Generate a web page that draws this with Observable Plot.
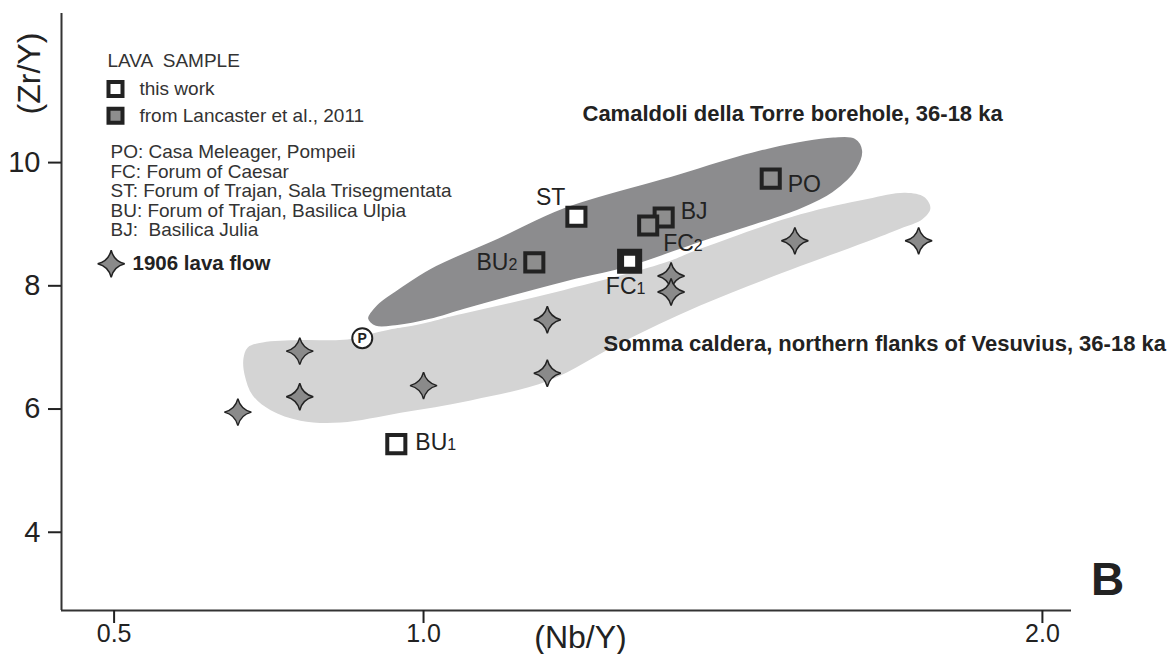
<!DOCTYPE html>
<html>
<head>
<meta charset="utf-8">
<script src="https://cdn.jsdelivr.net/npm/d3@7"></script>
<script src="https://cdn.jsdelivr.net/npm/@observablehq/plot@0.6"></script>
<style>
  html, body { margin: 0; padding: 0; background: #fff; }
  #chart svg { display: block; }
  #chart svg text { white-space: pre; }
</style>
</head>
<body>
<div id="chart"></div>
<script>
// Axis ticks and extents (Nb/Y on x, Zr/Y on y)
const xTicks = [0.5, 1.0, 2.0];
const yTicks = [4, 6, 8, 10];
const xDomain = [0.415, 2.047];
const yDomain = [2.73, 12.42];

// Lava samples: Roman building stones and the Pompeii sample
const sampleNames  = ["PO", "ST", "BU2", "BJ", "FC2", "FC1", "BU1"];
const sampleNbY    = [1.561, 1.247, 1.179, 1.388, 1.363, 1.333, 0.956];
const sampleZrY    = [9.74, 9.12, 8.38, 9.11, 8.98, 8.40, 5.43];
const sampleSource = ["Lancaster", "this work", "Lancaster", "Lancaster", "Lancaster", "this work", "this work"];

// 1906 lava flow
const flowNbY = [0.70, 0.80, 0.80, 1.00, 1.20, 1.20, 1.40, 1.40, 1.60, 1.80];
const flowZrY = [5.95, 6.94, 6.20, 6.38, 7.45, 6.58, 8.16, 7.90, 8.73, 8.73];

// Pompeii reference (circled P)
const pompeiiNbY = [0.901];
const pompeiiZrY = [7.15];

// Camaldoli della Torre borehole field outline
const camaldoliNbY = [0.908, 0.924, 0.958, 1.011, 1.120, 1.226, 1.388, 1.556, 1.662, 1.698, 1.711, 1.701, 1.662, 1.609, 1.528, 1.447, 1.334, 1.226, 1.065, 1.011, 0.958, 0.922];
const camaldoliZrY = [7.47, 7.71, 7.96, 8.30, 8.79, 9.28, 9.76, 10.25, 10.43, 10.41, 10.20, 9.88, 9.50, 9.23, 8.95, 8.69, 8.30, 8.04, 7.60, 7.44, 7.34, 7.33];

// Somma caldera, northern flanks field outline
const sommaNbY = [0.716, 0.740, 0.801, 0.877, 0.919, 1.065, 1.226, 1.388, 1.447, 1.609, 1.717, 1.779, 1.809, 1.819, 1.806, 1.771, 1.717, 1.609, 1.447, 1.318, 1.202, 1.076, 0.963, 0.866, 0.801, 0.753, 0.724, 0.711, 0.709];
const sommaZrY = [7.00, 7.08, 7.12, 7.13, 7.23, 7.55, 7.93, 8.37, 8.60, 9.16, 9.41, 9.51, 9.44, 9.26, 9.08, 8.93, 8.72, 8.32, 7.68, 7.07, 6.46, 6.14, 5.94, 5.78, 5.81, 5.98, 6.22, 6.55, 6.82];

// Legend texts
const legendTitle = "LAVA  SAMPLE";
const legendSources = ["this work", "from Lancaster et al., 2011"];
const legendSites = [
  "PO: Casa Meleager, Pompeii",
  "FC: Forum of Caesar",
  "ST: Forum of Trajan, Sala Trisegmentata",
  "BU: Forum of Trajan, Basilica Ulpia",
  "BJ:  Basilica Julia"
];
const legendFlow = "1906 lava flow";
const camaldoliLabel = "Camaldoli della Torre borehole, 36-18 ka";
const sommaLabel = "Somma caldera, northern flanks of Vesuvius, 36-18 ka";
const panelLetter = "B";
const xLabel = "(Nb/Y)";
const yLabel = "(Zr/Y)";

// ---- build tables ----
const samples = sampleNames.map((name, i) => ({name, x: sampleNbY[i], y: sampleZrY[i], source: sampleSource[i]}));
const flow = flowNbY.map((x, i) => ({x, y: flowZrY[i]}));
const pompeii = pompeiiNbY.map((x, i) => ({x, y: pompeiiZrY[i]}));
const camaldoli = camaldoliNbY.map((x, i) => ({x, y: camaldoliZrY[i]}));
const somma = sommaNbY.map((x, i) => ({x, y: sommaZrY[i]}));

// Four-pointed star with concave sides
const star4 = {
  draw(context, size) {
    const R = Math.sqrt(size / Math.PI);
    const k = R * 0.2;
    context.moveTo(0, -R);
    context.quadraticCurveTo(k, -k, R, 0);
    context.quadraticCurveTo(k, k, 0, R);
    context.quadraticCurveTo(-k, k, -R, 0);
    context.quadraticCurveTo(-k, -k, 0, -R);
    context.closePath();
  }
};

const INK = "#222";
const GREY = "#8e8e8e";
const DARK_FIELD = "#8c8c8e";
const LIGHT_FIELD = "#d4d4d4";
const SQ_R = 10.2;

// Label offsets next to each square
const labelPlacement = {
  PO:  {dx: 17,  dy: 6,   anchor: "start"},
  ST:  {dx: -11, dy: -19, anchor: "end"},
  BU2: {dx: -17, dy: 0,   anchor: "end"},
  BJ:  {dx: 17,  dy: -6,  anchor: "start"},
  FC2: {dx: 15,  dy: 18,  anchor: "start"},
  FC1: {dx: -4,  dy: 25,  anchor: "middle"},
  BU1: {dx: 19,  dy: -2,  anchor: "start"}
};

const sampleMarks = samples.map(s => Plot.dot([s], {
  x: "x", y: "y", symbol: "square", r: SQ_R,
  fill: s.source === "this work" ? "white" : GREY,
  stroke: INK, strokeWidth: s.name === "FC1" ? 7 : 4
}));

const sampleLabels = samples.map(s => {
  const p = labelPlacement[s.name];
  return Plot.text([s], {
    x: "x", y: "y", text: "name", dx: p.dx, dy: p.dy,
    textAnchor: p.anchor, lineAnchor: "middle", fontSize: 23, fill: INK
  });
});

const legendSiteMarks = legendSites.map((t, i) => Plot.text([t], {
  text: d => d, frameAnchor: "top-left", dx: 49, dy: 138.5 + i * 19.6,
  textAnchor: "start", lineAnchor: "middle", fontSize: 19, fill: "#333"
}));

const chart = Plot.plot({
  width: 1171,
  height: 654,
  marginLeft: 61,
  marginRight: 100,
  marginTop: 13,
  marginBottom: 44,
  x: {domain: xDomain},
  y: {domain: yDomain},
  style: {fontFamily: "'Liberation Sans', Arial, sans-serif", color: INK, background: "white"},
  marks: [
    // fields
    Plot.line(somma, {x: "x", y: "y", curve: "catmull-rom-closed", fill: LIGHT_FIELD, stroke: "none"}),
    Plot.line(camaldoli, {x: "x", y: "y", curve: "catmull-rom-closed", fill: DARK_FIELD, stroke: "white", strokeWidth: 3}),

    // axes
    Plot.ruleX([xDomain[0]], {stroke: "#333", strokeWidth: 2}),
    Plot.ruleY([yDomain[0]], {stroke: "#333", strokeWidth: 2}),
    Plot.axisX({ticks: xTicks, tickFormat: d3.format(".1f"), tickSize: 13, tickPadding: 1, fontSize: 25, label: null, strokeWidth: 2}),
    Plot.axisY({ticks: yTicks, tickSize: 13, tickPadding: 8, fontSize: 29, label: null, strokeWidth: 2}),
    Plot.text([xLabel], {text: d => d, frameAnchor: "bottom-left", dx: 519, dy: 27, fontSize: 32, textAnchor: "middle", lineAnchor: "middle", fill: INK}),
    Plot.text([yLabel], {text: d => d, frameAnchor: "top-left", dx: -32, dy: 60, rotate: -90, fontSize: 32, textAnchor: "middle", lineAnchor: "middle", fill: INK}),

    // 1906 lava flow
    Plot.dot(flow, {x: "x", y: "y", symbol: star4, r: 13.5, fill: "#8a8a8a", stroke: INK, strokeWidth: 1.5}),

    // Pompeii reference
    Plot.dot(pompeii, {x: "x", y: "y", r: 10, fill: "white", stroke: INK, strokeWidth: 2}),
    Plot.text(pompeii, {x: "x", y: "y", text: () => "P", fontSize: 14, fontWeight: "bold", fill: INK, lineAnchor: "middle"}),

    // samples
    ...sampleMarks,
    ...sampleLabels,

    // field names
    Plot.text([camaldoliLabel], {text: d => d, frameAnchor: "top-left", dx: 521, dy: 100, textAnchor: "start", lineAnchor: "middle", fontSize: 22, fontWeight: "bold", fill: INK}),
    Plot.text([sommaLabel], {text: d => d, frameAnchor: "top-left", dx: 542, dy: 330, textAnchor: "start", lineAnchor: "middle", fontSize: 22, fontWeight: "bold", fill: INK}),

    // legend
    Plot.text([legendTitle], {text: d => d, frameAnchor: "top-left", dx: 46, dy: 47.5, textAnchor: "start", lineAnchor: "middle", fontSize: 19, fill: "#333"}),
    Plot.dot([0], {frameAnchor: "top-left", dx: 54, dy: 75.5, symbol: "square", r: 7.9, fill: "white", stroke: INK, strokeWidth: 4}),
    Plot.text([legendSources[0]], {text: d => d, frameAnchor: "top-left", dx: 78, dy: 75, textAnchor: "start", lineAnchor: "middle", fontSize: 19, fill: "#333"}),
    Plot.dot([0], {frameAnchor: "top-left", dx: 54, dy: 102.3, symbol: "square", r: 7.9, fill: GREY, stroke: INK, strokeWidth: 4}),
    Plot.text([legendSources[1]], {text: d => d, frameAnchor: "top-left", dx: 78, dy: 102, textAnchor: "start", lineAnchor: "middle", fontSize: 19, fill: "#333"}),
    ...legendSiteMarks,
    Plot.dot([0], {frameAnchor: "top-left", dx: 49.7, dy: 250.3, symbol: star4, r: 13.5, fill: "#8a8a8a", stroke: INK, strokeWidth: 1.5}),
    Plot.text([legendFlow], {text: d => d, frameAnchor: "top-left", dx: 71, dy: 250, textAnchor: "start", lineAnchor: "middle", fontSize: 20.5, fontWeight: "bold", fill: INK}),

    // panel letter
    Plot.text([panelLetter], {text: d => d, frameAnchor: "top-left", dx: 1046, dy: 567, textAnchor: "middle", lineAnchor: "middle", fontSize: 46, fontWeight: "bold", fill: INK})
  ]
});

document.getElementById("chart").appendChild(chart);

// Subscript digits in sample labels (BU1, BU2, FC1, FC2)
d3.select(chart).selectAll("text").each(function () {
  if (this.childElementCount) return;
  const m = (this.textContent || "").match(/^(BU|FC)(\d)$/);
  if (!m) return;
  this.textContent = m[1];
  const ts = document.createElementNS("http://www.w3.org/2000/svg", "tspan");
  ts.setAttribute("font-size", 16);
  ts.textContent = m[2];
  this.appendChild(ts);
});
</script>
</body>
</html>
